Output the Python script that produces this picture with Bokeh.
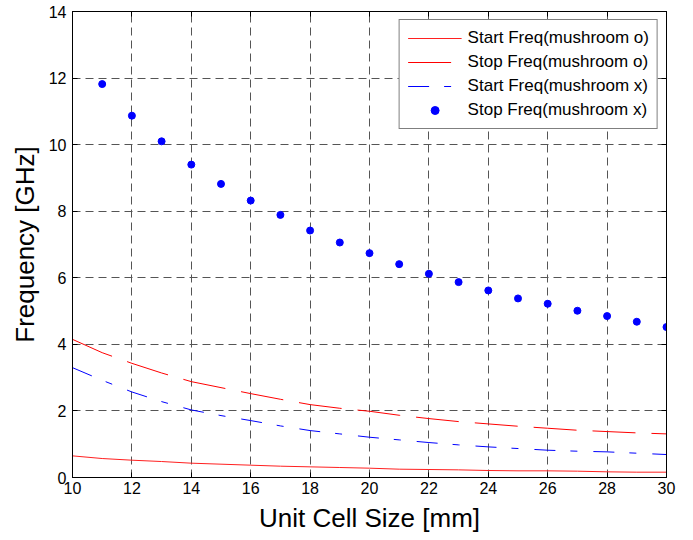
from bokeh.plotting import figure
from bokeh.models import Range1d, LinearAxis, FixedTicker, Legend, LegendItem
from bokeh.embed import file_html
from bokeh.resources import INLINE

# Unit cell size [mm]
cell_size = [10, 11, 12, 13, 14, 15, 16, 17, 18, 19, 20,
             21, 22, 23, 24, 25, 26, 27, 28, 29, 30]
# Mushroom "o": band-gap start / stop frequency [GHz]
start_o = [0.65, 0.57, 0.52, 0.48, 0.43, 0.40, 0.37, 0.34, 0.32, 0.30, 0.28,
           0.25, 0.24, 0.23, 0.21, 0.20, 0.20, 0.19, 0.17, 0.16, 0.16]
stop_o = [4.15, 3.75, 3.43, 3.14, 2.88, 2.70, 2.52, 2.35, 2.19, 2.08, 1.99,
          1.87, 1.77, 1.68, 1.61, 1.54, 1.48, 1.42, 1.38, 1.34, 1.31]
# Mushroom "x": band-gap start frequency [GHz]
start_x = [3.30, 2.92, 2.57, 2.28, 2.03, 1.86, 1.71, 1.55, 1.41, 1.31, 1.21,
           1.13, 1.05, 0.98, 0.92, 0.87, 0.82, 0.79, 0.77, 0.73, 0.69]
# Mushroom "x": band-gap stop frequency [GHz]
stop_x_size = [11, 12, 13, 14, 15, 16, 17, 18, 19, 20,
               21, 22, 23, 24, 25, 26, 27, 28, 29, 30]
stop_x = [11.82, 10.87, 10.10, 9.40, 8.82, 8.32, 7.89, 7.42, 7.06, 6.74,
          6.41, 6.12, 5.87, 5.62, 5.38, 5.22, 5.01, 4.85, 4.68, 4.52]

x_ticks = [10, 12, 14, 16, 18, 20, 22, 24, 26, 28, 30]
y_ticks = [0, 2, 4, 6, 8, 10, 12, 14]

FONT = "Liberation Sans"

p = figure(width=693, height=540, output_backend="svg", toolbar_location=None,
           x_range=Range1d(10, 30), y_range=Range1d(0, 14),
           min_border_left=72, min_border_right=27,
           min_border_top=11, min_border_bottom=63,
           x_axis_label="Unit Cell Size [mm]", y_axis_label="Frequency [GHz]")
p.background_fill_color = "white"
p.border_fill_color = "white"
p.outline_line_color = "black"
p.outline_line_width = 1

# dashed grid at every tick
for g in (p.xgrid, p.ygrid):
    g.grid_line_color = "#555555"
    g.grid_line_dash = "8 5"
    g.grid_line_width = 1
p.xgrid.ticker = FixedTicker(ticks=x_ticks)
p.ygrid.ticker = FixedTicker(ticks=y_ticks)


def style_axis(ax, ticks, show_labels=True):
    ax.ticker = FixedTicker(ticks=ticks)
    ax.axis_line_color = "black"
    ax.major_tick_line_color = "black"
    ax.major_tick_in = 5
    ax.major_tick_out = 0
    ax.minor_tick_line_color = None
    ax.major_label_text_font = FONT
    ax.major_label_text_color = "black"
    ax.axis_label_text_font = FONT
    ax.axis_label_text_font_style = "normal"
    ax.axis_label_text_color = "black"
    if show_labels:
        ax.major_label_text_font_size = "16px"
        ax.axis_label_text_font_size = "26px"
    else:
        ax.major_label_text_font_size = "0px"
        ax.major_label_text_alpha = 0
        ax.major_label_standoff = 0


style_axis(p.xaxis[0], x_ticks)
style_axis(p.yaxis[0], y_ticks)
p.xaxis[0].major_label_standoff = 4
p.xaxis[0].axis_label_standoff = 6
p.yaxis[0].major_label_standoff = 6
p.yaxis[0].axis_label_standoff = 6

top_axis = LinearAxis()
style_axis(top_axis, x_ticks, show_labels=False)
p.add_layout(top_axis, "above")
right_axis = LinearAxis()
style_axis(right_axis, y_ticks, show_labels=False)
p.add_layout(right_axis, "right")

r1 = p.line(cell_size, start_o, line_color="#ff2020", line_width=1)
r2 = p.line(cell_size, stop_o, line_color="#ff0000", line_width=1,
            line_dash="43 16")
r3 = p.line(cell_size, start_x, line_color="#0000ff", line_width=1,
            line_dash="21 15 7 16")
r4 = p.scatter(stop_x_size, stop_x, size=7, marker="circle",
               fill_color="#0000ff", line_color="#0000ff")

legend = Legend(items=[
    LegendItem(label="Start Freq(mushroom o)", renderers=[r1]),
    LegendItem(label="Stop Freq(mushroom o)", renderers=[r2]),
    LegendItem(label="Start Freq(mushroom x)", renderers=[r3]),
    LegendItem(label="Stop Freq(mushroom x)", renderers=[r4]),
], location="top_right")
legend.margin = 8
legend.padding = 8
legend.spacing = 4
legend.glyph_width = 54
legend.glyph_height = 20
legend.label_height = 20
legend.label_standoff = 6
legend.label_text_font = FONT
legend.label_text_font_size = "17px"
legend.label_text_color = "black"
legend.border_line_color = "black"
legend.border_line_width = 1
legend.background_fill_color = "white"
legend.background_fill_alpha = 1
p.add_layout(legend)

open("out.html", "w").write(file_html(p, INLINE))
